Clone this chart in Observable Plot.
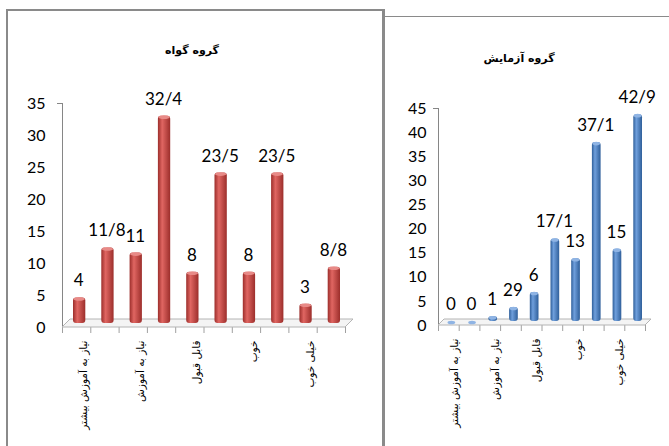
<!DOCTYPE html>
<html><head><meta charset="utf-8">
<script src="https://cdn.jsdelivr.net/npm/d3@7"></script>
<script src="https://cdn.jsdelivr.net/npm/@observablehq/plot@0.6"></script>
<style>
html,body{margin:0;padding:0;background:#fff;}
#root{position:relative;width:669px;height:446px;overflow:hidden;background:#fff;}
.chart{position:absolute;top:0;}
.border{position:absolute;box-sizing:border-box;pointer-events:none;z-index:2;}
#b1{left:6px;top:9px;width:379px;height:460px;border:2px solid #8a8a8a;border-bottom:none;border-right-width:3px;}
#b2{left:384px;top:16px;width:300px;height:460px;border-top:1px solid #8a8a8a;}
.title{position:absolute;font-family:"DejaVu Sans";font-weight:bold;font-size:11px;direction:rtl;transform:translate(-50%,-50%);white-space:nowrap;color:#000;}
</style></head>
<body><div id="root">
<div id="c1" class="chart" style="left:0px"></div>
<div id="c2" class="chart" style="left:384px"></div>
<div id="b1" class="border"></div>
<div id="b2" class="border"></div>
<div class="title" style="left:192px;top:50px">گروه گواه</div>
<div class="title" style="left:519px;top:58px">گروه آزمایش</div>
</div>
<script>
const categories = ["نیاز به آموزش بیشتر", "نیاز به آموزش", "قابل قبول", "خوب", "خیلی خوب"];
const controlValues = [4, 11.8, 11, 32.4, 8, 23.5, 8, 23.5, 3, 8.8];
const controlLabels = ["4", "11/8", "11", "32/4", "8", "23/5", "8", "23/5", "3", "8/8"];
const controlTicks = [0, 5, 10, 15, 20, 25, 30, 35];
const experimentValues = [0, 0, 1, 2.9, 6, 17.1, 13, 37.1, 15, 42.9];
const experimentLabels = ["0", "0", "1", "29", "6", "17/1", "13", "37/1", "15", "42/9"];
const experimentTicks = [0, 5, 10, 15, 20, 25, 30, 35, 40, 45];

function makeChart(o) {
  const n = o.values.length;
  const bars = o.values.map((v, i) => ({i, v, label: o.labels[i]}));
  const cats = categories.map((c, k) => ({x: 2 * k + 1, c}));
  const ymax = o.ticks[o.ticks.length - 1];
  const plot = Plot.plot({
    width: o.width, height: 446,
    marginLeft: o.ml, marginRight: o.mr, marginTop: o.mt, marginBottom: o.mb,
    style: {background: "transparent", fontFamily: "Lato", fontSize: "16px", color: "#000"},
    x: {domain: [0, n], axis: null},
    y: {domain: [0, ymax], axis: null},
    marks: [
      Plot.axisX({ticks: d3.range(n + 1), tickSize: 6, tickFormat: () => "", stroke: "#a0a0a0", label: null}),
      Plot.ruleX([0], {y1: 0, y2: ymax, stroke: "#868686"}),
      Plot.axisY({ticks: [ymax], tickSize: 5, tickFormat: () => "", stroke: "#868686", label: null}),
      Plot.axisY({ticks: o.ticks, tickSize: 0, tickPadding: o.tp, fontSize: 16, fill: "#000", label: null}),
      Plot.rectY(bars, {x1: d => d.i, x2: d => d.i + 1, y: "v", insetLeft: o.il, insetRight: o.ir, fill: o.color, rx: 3, dy: -4}),
      Plot.text(bars, {x: d => d.i + 0.5, y: "v", text: "label", dy: -21, dx: 2, fontSize: 17, fill: "#000"}),
      Plot.text(cats, {x: "x", y: () => 0, text: "c", rotate: -90, textAnchor: "end", dy: 13, dx: o.cdx, fontFamily: "DejaVu Sans", fontSize: 10.5, fill: "#000"})
    ]
  });
  const sx = plot.scale("x"), sy = plot.scale("y");
  const svg = d3.select(plot);
  const defs = svg.append("defs");
  const grad = defs.append("linearGradient").attr("id", o.id).attr("x1", 0).attr("x2", 1).attr("y1", 0).attr("y2", 0);
  grad.append("stop").attr("offset", "0%").attr("stop-color", o.dark);
  grad.append("stop").attr("offset", "35%").attr("stop-color", o.light);
  grad.append("stop").attr("offset", "100%").attr("stop-color", o.dark);
  const barG = plot.querySelector('g[aria-label="rect"]');
  d3.select(barG).attr("fill", `url(#${o.id})`).selectAll("rect").attr("fill", `url(#${o.id})`);
  // 3D floor
  const x0 = sx.apply(0), x1 = sx.apply(n), y0 = sy.apply(0), d = o.depth;
  const floor = document.createElementNS("http://www.w3.org/2000/svg", "path");
  floor.setAttribute("d", `M${x0},${y0}L${x1},${y0}L${x1 + d},${y0 - d}L${x0 + d},${y0 - d}Z`);
  floor.setAttribute("fill", "#f4f4f4");
  floor.setAttribute("stroke", "#b4b4b4");
  plot.insertBefore(floor, barG);
  // cylinder caps
  const caps = d3.select(plot).append("g");
  bars.forEach(b => {
    const bx0 = sx.apply(b.i) + o.il, bx1 = sx.apply(b.i + 1) - o.ir;
    caps.append("ellipse").attr("cx", (bx0 + bx1) / 2).attr("cy", sy.apply(b.v) - 4 + 1.5)
      .attr("rx", (bx1 - bx0) / 2 - 0.5).attr("ry", 1.8).attr("fill", o.cap);
  });
  return plot;
}

document.getElementById("c1").append(makeChart({
  values: controlValues, labels: controlLabels, ticks: controlTicks,
  width: 383, ml: 62, mr: 38, mt: 103, mb: 119, tp: 17, il: 11, ir: 5, depth: 8, cdx: -7,
  color: "#c0504d", dark: "#9c2e2b", light: "#e06662", cap: "#e88a87", id: "gradRed"
}));
document.getElementById("c2").append(makeChart({
  values: experimentValues, labels: experimentLabels, ticks: experimentTicks,
  width: 285, ml: 54, mr: 24, mt: 108, mb: 121, tp: 12, il: 9, ir: 3, depth: 6, cdx: -5,
  color: "#4f81bd", dark: "#2f5f9a", light: "#6f9fdc", cap: "#8fb4e4", id: "gradBlue"
}));
</script>
</body></html>
